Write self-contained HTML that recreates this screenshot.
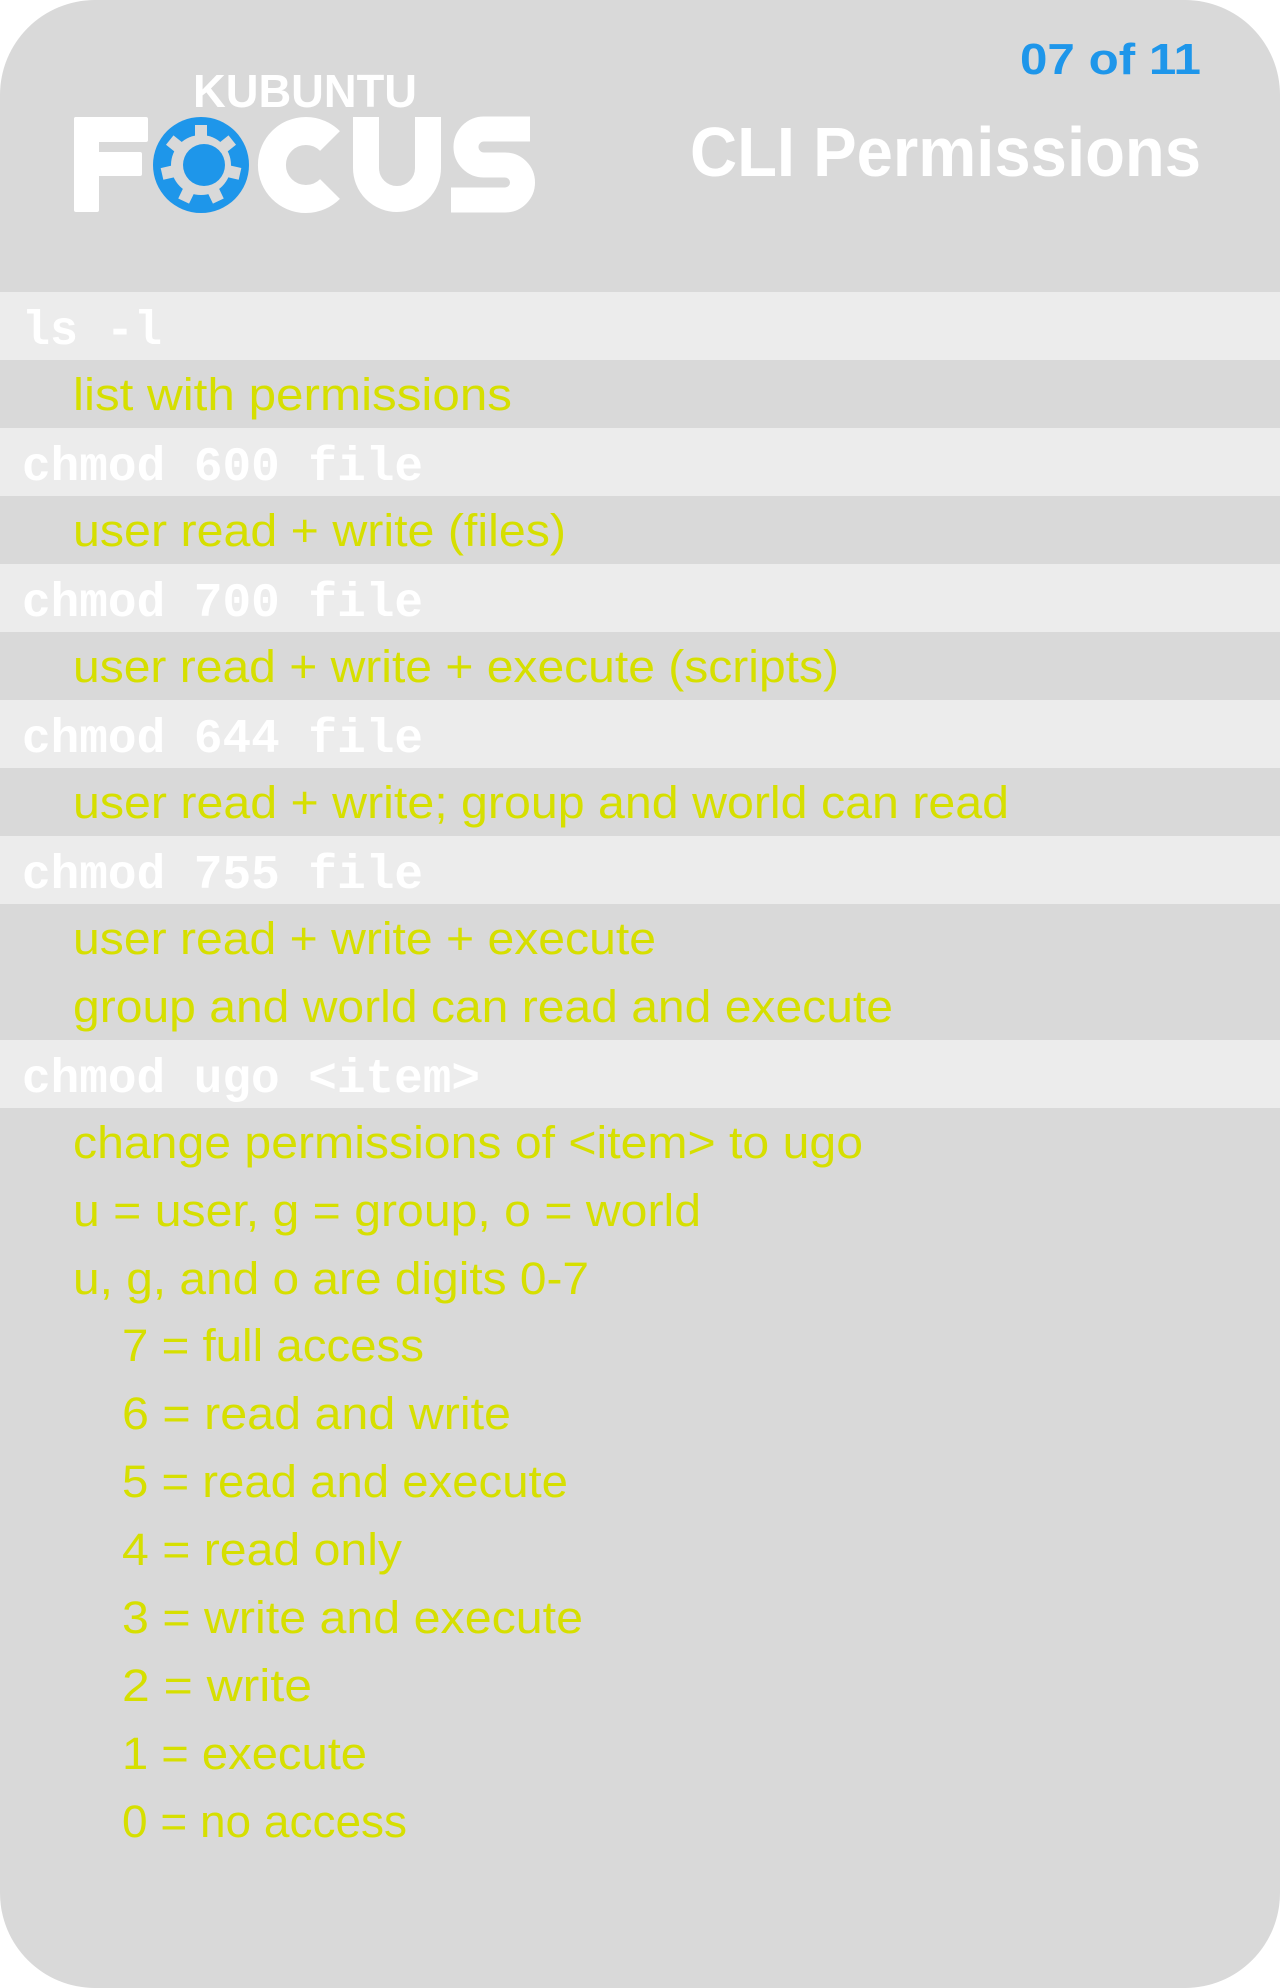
<!DOCTYPE html>
<html><head><meta charset="utf-8"><style>
html,body{margin:0;padding:0;background:#fff;}
svg{display:block}
.c{font-family:"Liberation Mono",monospace;font-weight:bold;font-size:48px;fill:#fff}
.d{font-family:"Liberation Sans",sans-serif;font-size:45px;fill:#d6df00}
</style></head><body>
<svg width="1280" height="1988" viewBox="0 0 1280 1988" xmlns="http://www.w3.org/2000/svg">
<defs><clipPath id="card"><rect x="0" y="0" width="1280" height="1988" rx="95" ry="95"/></clipPath></defs>
<g clip-path="url(#card)">
<rect width="1280" height="1988" fill="#d9d9d9"/>
<g fill="#ececec">
<rect x="0" y="292" width="1280" height="68"/>
<rect x="0" y="428" width="1280" height="68"/>
<rect x="0" y="564" width="1280" height="68"/>
<rect x="0" y="700" width="1280" height="68"/>
<rect x="0" y="836" width="1280" height="68"/>
<rect x="0" y="1040" width="1280" height="68"/>
</g>
</g>
<!-- header -->
<text x="1201" y="74" text-anchor="end" font-family="Liberation Sans,sans-serif" font-weight="bold" font-size="44" fill="#1e96ea" textLength="181" lengthAdjust="spacingAndGlyphs">07 of 11</text>
<text x="1201" y="176" text-anchor="end" font-family="Liberation Sans,sans-serif" font-weight="bold" font-size="70" fill="#fff" textLength="511" lengthAdjust="spacingAndGlyphs">CLI Permissions</text>
<!-- logo -->
<text x="193" y="107" font-family="Liberation Sans,sans-serif" font-weight="bold" font-size="46" fill="#fff" textLength="224" lengthAdjust="spacingAndGlyphs">KUBUNTU</text>
<g fill="#fff">
<rect x="74" y="117" width="25" height="95" rx="2"/>
<rect x="74" y="117" width="74" height="25" rx="2"/>
<rect x="74" y="152" width="68" height="24" rx="2"/>
</g>
<circle cx="201" cy="165" r="48" fill="#1e96ea"/>
<g fill="#d9d9d9" transform="translate(201,165)">
<circle r="30"/>
<g id="t"><rect x="-6" y="-40" width="12" height="16"/></g>
<use href="#t" transform="rotate(51.4)"/>
<use href="#t" transform="rotate(102.8)"/>
<use href="#t" transform="rotate(154.3)"/>
<use href="#t" transform="rotate(205.7)"/>
<use href="#t" transform="rotate(257.1)"/>
<use href="#t" transform="rotate(308.6)"/>
</g>
<circle cx="204" cy="165" r="21" fill="#1e96ea"/>
<path d="M330 141 A34 34 0 1 0 330 189" fill="none" stroke="#fff" stroke-width="28"/>
<path d="M366 117 V168 A31 31 0 0 0 428 168 V117" fill="none" stroke="#fff" stroke-width="26"/>
<path d="M530 129 H484 A18 18 0 0 0 484 165 H505 A17.5 17.5 0 0 1 505 200 H451" fill="none" stroke="#fff" stroke-width="25"/>
<!-- commands -->
<text class="c" x="22" y="344" textLength="140" lengthAdjust="spacingAndGlyphs">ls -l</text>
<text class="c" x="22" y="480" textLength="401" lengthAdjust="spacingAndGlyphs">chmod 600 file</text>
<text class="c" x="22" y="616" textLength="401" lengthAdjust="spacingAndGlyphs">chmod 700 file</text>
<text class="c" x="22" y="752" textLength="401" lengthAdjust="spacingAndGlyphs">chmod 644 file</text>
<text class="c" x="22" y="888" textLength="401" lengthAdjust="spacingAndGlyphs">chmod 755 file</text>
<text class="c" x="22" y="1092" textLength="458" lengthAdjust="spacingAndGlyphs">chmod ugo &lt;item&gt;</text>
<!-- descriptions -->
<text class="d" x="73" y="410" textLength="439" lengthAdjust="spacingAndGlyphs">list with permissions</text>
<text class="d" x="73" y="546" textLength="493" lengthAdjust="spacingAndGlyphs">user read + write (files)</text>
<text class="d" x="73" y="682" textLength="766" lengthAdjust="spacingAndGlyphs">user read + write + execute (scripts)</text>
<text class="d" x="73" y="818" textLength="936" lengthAdjust="spacingAndGlyphs">user read + write; group and world can read</text>
<text class="d" x="73" y="954" textLength="583" lengthAdjust="spacingAndGlyphs">user read + write + execute</text>
<text class="d" x="73" y="1022" textLength="820" lengthAdjust="spacingAndGlyphs">group and world can read and execute</text>
<text class="d" x="73" y="1158" textLength="790" lengthAdjust="spacingAndGlyphs">change permissions of &lt;item&gt; to ugo</text>
<text class="d" x="73" y="1226" textLength="628" lengthAdjust="spacingAndGlyphs">u = user, g = group, o = world</text>
<text class="d" x="73" y="1294" textLength="516" lengthAdjust="spacingAndGlyphs">u, g, and o are digits 0-7</text>
<text class="d" x="122" y="1361" textLength="302" lengthAdjust="spacingAndGlyphs">7 = full access</text>
<text class="d" x="122" y="1429" textLength="389" lengthAdjust="spacingAndGlyphs">6 = read and write</text>
<text class="d" x="122" y="1497" textLength="446" lengthAdjust="spacingAndGlyphs">5 = read and execute</text>
<text class="d" x="122" y="1565" textLength="280" lengthAdjust="spacingAndGlyphs">4 = read only</text>
<text class="d" x="122" y="1633" textLength="461" lengthAdjust="spacingAndGlyphs">3 = write and execute</text>
<text class="d" x="122" y="1701" textLength="190" lengthAdjust="spacingAndGlyphs">2 = write</text>
<text class="d" x="122" y="1769" textLength="245" lengthAdjust="spacingAndGlyphs">1 = execute</text>
<text class="d" x="122" y="1837" textLength="285" lengthAdjust="spacingAndGlyphs">0 = no access</text>
</svg>
</body></html>
